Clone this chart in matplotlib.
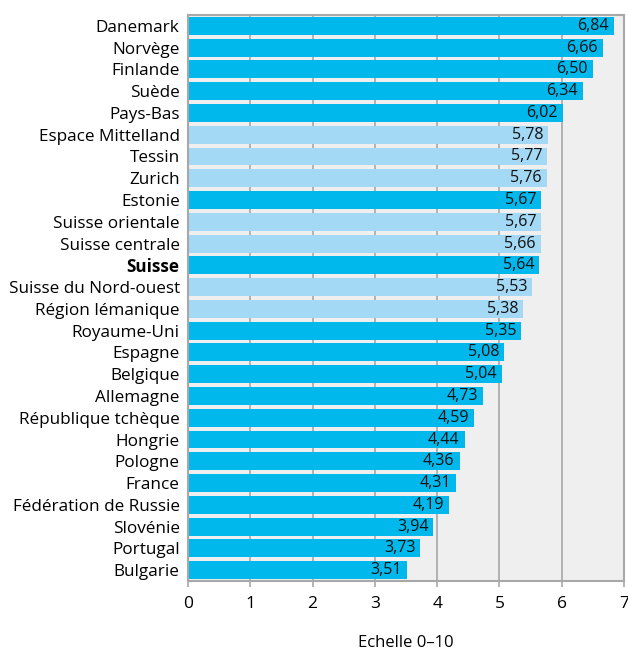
import matplotlib
matplotlib.use('Agg')
import matplotlib.pyplot as plt

categories = ['Danemark', 'Norvège', 'Finlande', 'Suède', 'Pays-Bas', 'Espace Mittelland',
              'Tessin', 'Zurich', 'Estonie', 'Suisse orientale', 'Suisse centrale', 'Suisse',
              'Suisse du Nord-ouest', 'Région lémanique', 'Royaume-Uni', 'Espagne', 'Belgique',
              'Allemagne', 'République tchèque', 'Hongrie', 'Pologne', 'France',
              'Fédération de Russie', 'Slovénie', 'Portugal', 'Bulgarie']
values = [6.84, 6.66, 6.50, 6.34, 6.02, 5.78, 5.77, 5.76, 5.67, 5.67, 5.66, 5.64,
          5.53, 5.38, 5.35, 5.08, 5.04, 4.73, 4.59, 4.44, 4.36, 4.31, 4.19, 3.94, 3.73, 3.51]
swiss_regions = ['Espace Mittelland', 'Tessin', 'Zurich', 'Suisse orientale', 'Suisse centrale',
                 'Suisse du Nord-ouest', 'Région lémanique']

dark = '#00B8EC'
light = '#A4D9F6'
grid_col = '#A8A8A8'

plt.rcParams['font.family'] = ['Open Sans', 'DejaVu Sans']

fig = plt.figure(figsize=(6.28, 6.5), dpi=100)
ax = fig.add_axes([188 / 628, 1 - 581 / 650, 436 / 628, 566 / 650])
ax.set_facecolor('#EFEFEF')

colors = [light if c in swiss_regions else dark for c in categories]
y = list(range(len(categories)))
ax.barh(y, values, height=0.82, color=colors, zorder=2)

for yi, v in zip(y, values):
    ax.text(v - 0.08, yi, f'{v:.2f}'.replace('.', ','), ha='right', va='center',
            fontsize=11.5, color='#111111', zorder=3)

ax.set_xlim(0, 7)
ax.set_ylim(len(categories) - 0.5, -0.5)
ax.set_xticks(range(8))
ax.xaxis.grid(True, color=grid_col, linewidth=1.2, zorder=1)
ax.set_axisbelow(True)
ax.set_yticks(y)
ax.set_yticklabels(categories, fontsize=12.3)
for lab in ax.get_yticklabels():
    if lab.get_text() == 'Suisse':
        lab.set_fontweight('bold')
ax.tick_params(axis='y', length=0, pad=6)
ax.tick_params(axis='x', length=4, color=grid_col, width=1.2, labelsize=12.5, pad=7)
for s in ax.spines.values():
    s.set_color(grid_col)
    s.set_linewidth(1.5)

fig.text(406 / 628, 1 - 643 / 650, 'Echelle 0\u201310', ha='center', va='center', fontsize=12)

fig.savefig('out.png', dpi=100)
